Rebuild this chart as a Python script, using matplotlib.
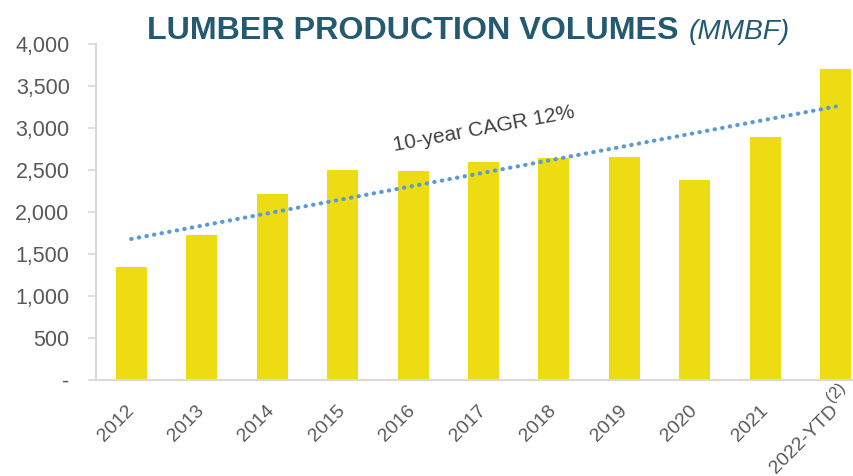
import numpy as np
import matplotlib
matplotlib.use("Agg")
from matplotlib import pyplot as plt

years = ["2012", "2013", "2014", "2015", "2016", "2017", "2018", "2019", "2020", "2021",
         "2022-YTD"]
last_note = "(2)"
volumes = [1350, 1725, 2220, 2500, 2490, 2595, 2640, 2650, 2380, 2890, 3700]
y_ticks = [0, 500, 1000, 1500, 2000, 2500, 3000, 3500, 4000]
y_tick_labels = ["-", "500", "1,000", "1,500", "2,000", "2,500", "3,000", "3,500", "4,000"]

plt.rcParams["font.family"] = ["Liberation Sans", "DejaVu Sans"]

W, H = 854, 476
fig = plt.figure(figsize=(W / 100, H / 100), dpi=100)
# axes spans x from 96px to ~871px (right part cut off by figure edge)
ax = fig.add_axes([96 / W, (H - 380) / H, (871 - 96) / W, (380 - 44) / H])

x = np.arange(len(volumes))
ax.bar(x, volumes, width=0.44, color="#EDDC12", zorder=2)

# linear trend line fitted to the data
k, b = np.polyfit(x, volumes, 1)
ax.plot(x[[0, -1]], k * x[[0, -1]] + b, color="#5B9BD5", lw=3,
        linestyle=(0, (0.1, 1.75)), dash_capstyle="round", zorder=3)

ax.text(5.0, 2990, "10-year CAGR 12%", rotation=10.5, ha="center", va="center",
        fontsize=15, color="#404040", rotation_mode="anchor")

ax.set_xlim(-0.5, 10.5)
ax.set_ylim(0, 4000)
ax.set_yticks(y_ticks)
ax.set_yticklabels(y_tick_labels)
ax.set_xticks(x)
ax.set_xticklabels(years, rotation=45, ha="right", va="center", rotation_mode="anchor")
ax.annotate(last_note, xy=(x[-1], 0), xytext=(0, -9), textcoords="offset points",
            rotation=45, ha="center", va="center", rotation_mode="anchor",
            fontsize=12, color="#595959", annotation_clip=False)

for s in ["top", "right"]:
    ax.spines[s].set_visible(False)
for s in ["left", "bottom"]:
    ax.spines[s].set_color("#D9D9D9")
    ax.spines[s].set_linewidth(1.5)
ax.tick_params(axis="y", length=6, width=1.2, color="#D9D9D9", labelsize=15.5,
               labelcolor="#595959", pad=13)
ax.tick_params(axis="x", length=0, labelsize=14, labelcolor="#595959", pad=20)

# title: bold part + italic part, sized to the reference widths
title_color = "#235A72"
renderer = fig.canvas.get_renderer()
t1 = fig.text(147 / W, 1 - 39 / H, "LUMBER PRODUCTION VOLUMES", ha="left", va="baseline",
              fontsize=27, fontweight="bold", color=title_color)
t1.set_fontsize(27 * 531 / t1.get_window_extent(renderer).width)
t2 = fig.text(689 / W, 1 - 39 / H, "(MMBF)", ha="left", va="baseline",
              fontsize=27, style="italic", color=title_color)
t2.set_fontsize(27 * 101 / t2.get_window_extent(renderer).width)

fig.savefig("out.png", dpi=100)
